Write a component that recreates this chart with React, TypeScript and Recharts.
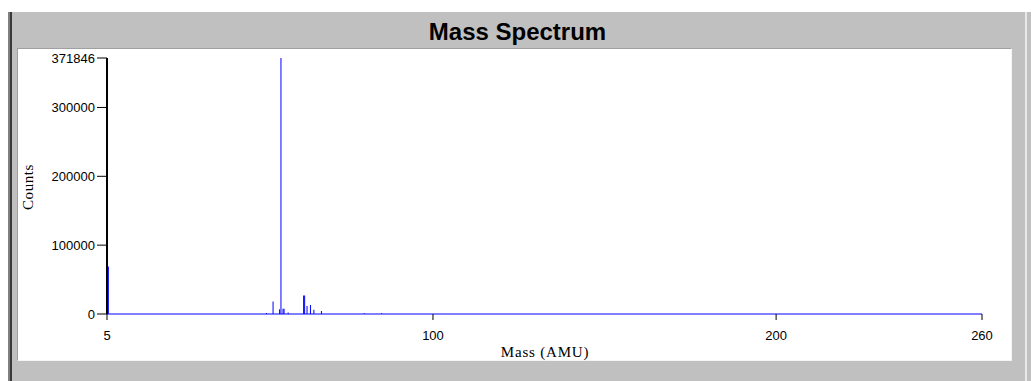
import React from "react";
import {
  ComposedChart,
  Bar,
  XAxis,
  YAxis,
  ReferenceLine,
} from "recharts";

// Peak positions (AMU) and their counts
const masses = [5.4, 51.5, 53.4, 55.3, 55.7, 56.3, 56.6, 57.8, 62.3, 62.6, 63.3, 64.3, 65.3, 67.5, 80, 85];
const counts = [69000, 1500, 18000, 7000, 371846, 7500, 7500, 2000, 27000, 27000, 11500, 13000, 6000, 4400, 1200, 1200];

const xTicks = [5, 100, 200, 260];
const yTicks = [0, 100000, 200000, 300000, 371846];

const data = masses.map((m, i) => ({ mass: m, counts: counts[i] }));

const tickFont = { fontFamily: "'Liberation Sans', Arial, sans-serif", fontSize: 13, fill: "#000" };

export default function App() {
  return (
    <div style={{ position: "absolute", left: 0, top: 0, width: 1031, height: 381, background: "#fff", overflow: "hidden" }}>
      {/* grey window frame */}
      <div style={{ position: "absolute", left: 8, top: 12, width: 2, height: 369, background: "#808080" }} />
      <div style={{ position: "absolute", left: 10, top: 12, width: 2, height: 369, background: "#3a3a3a" }} />
      <div style={{ position: "absolute", left: 12, top: 12, width: 1013, height: 369, background: "#c0c0c0" }} />
      <div style={{ position: "absolute", left: 1025, top: 12, width: 2, height: 369, background: "#e8e8e8" }} />
      <div style={{ position: "absolute", left: 1027, top: 12, width: 4, height: 369, background: "#c0c0c0" }} />
      {/* white plot panel */}
      <div
        style={{
          position: "absolute",
          left: 17,
          top: 48,
          width: 993,
          height: 311,
          background: "#fff",
          borderTop: "1px solid #a0a0a0",
          borderLeft: "1px solid #a0a0a0",
          borderRight: "1px solid #f4f4f4",
          borderBottom: "1px solid #f4f4f4",
        }}
      />
      {/* title */}
      <div
        style={{
          position: "absolute",
          left: 0,
          width: 1031,
          top: 17,
          textAlign: "center",
          fontFamily: "'Liberation Sans', Arial, sans-serif",
          fontWeight: "bold",
          fontSize: 24,
          lineHeight: "30px",
          color: "#000",
          paddingLeft: 2,
        }}
      >
        Mass Spectrum
      </div>
      {/* axis titles */}
      <div
        style={{
          position: "absolute",
          left: 28,
          top: 187,
          transform: "translate(-50%, -50%) rotate(-90deg)",
          fontFamily: "'Liberation Serif', 'Times New Roman', serif",
          fontSize: 15,
          letterSpacing: 0.6,
          whiteSpace: "nowrap",
          color: "#000",
        }}
      >
        Counts
      </div>
      <div
        style={{
          position: "absolute",
          left: 545,
          top: 352,
          transform: "translate(-50%, -50%)",
          fontFamily: "'Liberation Serif', 'Times New Roman', serif",
          fontSize: 15,
          letterSpacing: 0.8,
          whiteSpace: "nowrap",
          color: "#000",
        }}
      >
        Mass (AMU)
      </div>
      <div style={{ position: "absolute", left: 0, top: 0 }}>
        <ComposedChart width={1031} height={381} data={data} margin={{ top: 58, right: 49, bottom: 0, left: 0 }}>
          <XAxis
            type="number"
            dataKey="mass"
            domain={[5, 260]}
            ticks={xTicks}
            interval={0}
            allowDataOverflow
            height={67}
            axisLine={false}
            tickLine={{ stroke: "#000" }}
            tickSize={6}
            tickMargin={11}
            tick={tickFont}
          />
          <YAxis
            type="number"
            domain={[0, 371846]}
            ticks={yTicks}
            interval={0}
            allowDataOverflow
            width={107}
            axisLine={{ stroke: "#000", strokeWidth: 2 }}
            tickLine={{ stroke: "#000" }}
            tickSize={10}
            tickMargin={2}
            tick={tickFont}
          />
          <ReferenceLine y={0} stroke="#0000ff" strokeWidth={1} />
          <Bar dataKey="counts" fill="#0000ff" barSize={1} isAnimationActive={false} />
        </ComposedChart>
      </div>
    </div>
  );
}
